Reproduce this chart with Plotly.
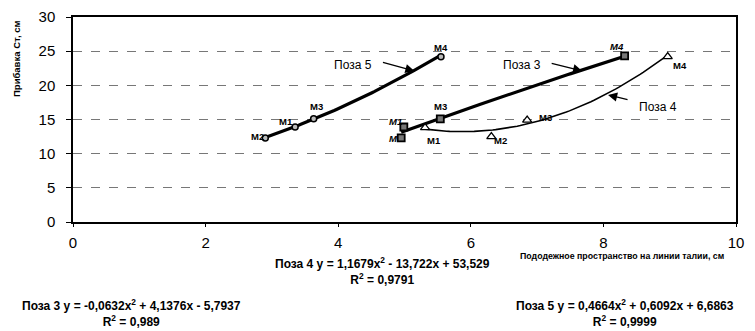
import numpy as np
import plotly.graph_objects as go

# Data
labels = ["M1", "M2", "M3", "M4"]
poza3_x = [4.99, 4.95, 5.54, 8.32]
poza3_y = [13.9, 12.3, 15.1, 24.3]
poza4_x = [5.31, 6.31, 6.85, 8.97]
poza4_y = [13.8, 12.5, 14.9, 24.2]
poza5_x = [3.35, 2.90, 3.63, 5.55]
poza5_y = [13.9, 12.3, 15.1, 24.2]

# Trendline coefficients shown on the chart (a, b, c for y = ax^2 + bx + c)
poza3_coef = [-0.0632, 4.1376, -5.7937]
poza4_coef = [1.1679, -13.722, 53.529]
poza5_coef = [0.4664, 0.6092, 6.6863]

x_ticks = [0, 2, 4, 6, 8, 10]
y_ticks = [0, 5, 10, 15, 20, 25, 30]

FONT = "Liberation Sans, Arial, sans-serif"


def trend(xs, coef):
    t = np.linspace(min(xs), max(xs), 80)
    return t, coef[0] * t ** 2 + coef[1] * t + coef[2]


fig = go.Figure()

for xs, coef, w in [(poza5_x, poza5_coef, 3.2), (poza3_x, poza3_coef, 3.2), (poza4_x, poza4_coef, 1.6)]:
    tx, ty = trend(xs, coef)
    fig.add_trace(go.Scatter(x=tx, y=ty, mode="lines", line=dict(color="black", width=w),
                             hoverinfo="skip", showlegend=False))

fig.add_trace(go.Scatter(x=poza5_x, y=poza5_y, mode="markers",
                         marker=dict(symbol="circle", size=6, color="#bbbbbb",
                                     line=dict(color="black", width=1.5)), showlegend=False))
fig.add_trace(go.Scatter(x=poza3_x, y=poza3_y, mode="markers",
                         marker=dict(symbol="square", size=7, color="#777777",
                                     line=dict(color="black", width=1.8)), showlegend=False))
fig.add_trace(go.Scatter(x=poza4_x, y=poza4_y, mode="markers",
                         marker=dict(symbol="triangle-up", size=8, color="white",
                                     line=dict(color="black", width=1.3)), showlegend=False))

ann = []
lab_font = dict(family=FONT, size=9.5, color="black")


def lab(x, y, t, dx, dy, italic=False):
    txt = f"<b>{t}</b>" if not italic else f"<b><i>{t}</i></b>"
    ann.append(dict(x=x, y=y, text=txt, showarrow=False, xshift=dx, yshift=dy, font=lab_font,
                    xanchor="center", yanchor="middle"))


# Poza 5 labels
lab(poza5_x[0], poza5_y[0], labels[0], -9, 6)
lab(poza5_x[1], poza5_y[1], labels[1], -8, 1)
lab(poza5_x[2], poza5_y[2], labels[2], 3, 12)
lab(poza5_x[3], poza5_y[3], labels[3], 0, 9)
# Poza 3 labels
lab(poza3_x[0], poza3_y[0], labels[0], -8, 6, True)
lab(poza3_x[1], poza3_y[1], "M", -8, -1, True)
lab(poza3_x[2], poza3_y[2], labels[2], 0, 12)
lab(poza3_x[3], poza3_y[3], labels[3], -8, 9, True)
# Poza 4 labels
lab(poza4_x[0], poza4_y[0], labels[0], 9, -13)
lab(poza4_x[1], poza4_y[1], labels[1], 9, -4)
lab(poza4_x[2], poza4_y[2], labels[2], 18, 3)
lab(poza4_x[3], poza4_y[3], labels[3], 12, -9)

name_font = dict(family=FONT, size=12, color="black")
for x, y, t in [(4.22, 23.0, "Поза 5"), (6.77, 23.0, "Поза 3"), (8.83, 16.8, "Поза 4")]:
    ann.append(dict(x=x, y=y, text=t, showarrow=False, font=name_font,
                    xanchor="center", yanchor="middle"))

arrow = dict(showarrow=True, text="", arrowhead=2, arrowsize=1.4, arrowwidth=1.3, arrowcolor="black")
ann.append(dict(x=5.15, y=22.1, ax=-33, ay=-9, **arrow))
ann.append(dict(x=7.68, y=22.1, ax=-32, ay=-8, **arrow))
ann.append(dict(x=8.07, y=18.6, ax=21, ay=5, **arrow))

# plot area in the page: x 73..736, y 17..222
PW, PH = 663, 205
eq_font = dict(family=FONT, size=12, color="black")


def paper_text(px, py, text, font, angle=0):
    ann.append(dict(xref="paper", yref="paper", x=(px - 73) / PW, y=(222 - py) / PH,
                    text=text, showarrow=False, font=font, align="center",
                    xanchor="center", yanchor="middle", textangle=angle))


paper_text(382, 271, "<b>Поза 4 y = 1,1679x<sup>2</sup> - 13,722x + 53,529</b><br><b>R<sup>2</sup> = 0,9791</b>", eq_font)
paper_text(131, 313, "<b>Поза 3 y = -0,0632x<sup>2</sup> + 4,1376x - 5,7937</b><br><b>R<sup>2</sup> = 0,989</b>", eq_font)
paper_text(625, 313, "<b>Поза 5 y = 0,4664x<sup>2</sup> + 0,6092x + 6,6863</b><br><b>R<sup>2</sup> = 0,9999</b>", eq_font)
paper_text(622, 256, "<b>Пододежное пространство на линии талии, см</b>", dict(family=FONT, size=8.8, color="black"))
paper_text(17, 59, "<b>Прибавка Ст, см</b>", dict(family=FONT, size=9.5, color="black"), angle=-90)

# page body adds an 8px offset; margins compensate so the plot area lands at x 73..736, y 17..222
fig.update_layout(
    width=755, height=331,
    margin=dict(l=65, r=27, t=9, b=117, autoexpand=False),
    paper_bgcolor="white", plot_bgcolor="white",
    annotations=ann,
    xaxis=dict(range=[0, 10], tickvals=x_ticks, ticktext=[str(v) for v in x_ticks],
               showgrid=False, zeroline=False, showline=True, mirror=True,
               linecolor="black", linewidth=1.5, ticks="outside", ticklen=3, tickcolor="black",
               ticklabelstandoff=3, automargin=False,
               tickfont=dict(family=FONT, size=15, color="black")),
    yaxis=dict(range=[0, 30], tickvals=y_ticks, ticktext=[str(v) for v in y_ticks],
               showgrid=True, gridcolor="#777777", griddash="dash", gridwidth=1,
               zeroline=False, showline=True, mirror=True, automargin=False,
               linecolor="black", linewidth=1.5, ticks="outside", ticklen=5, tickcolor="black",
               ticklabelstandoff=8,
               tickfont=dict(family=FONT, size=15, color="black")),
)

fig.write_html("out.html")
